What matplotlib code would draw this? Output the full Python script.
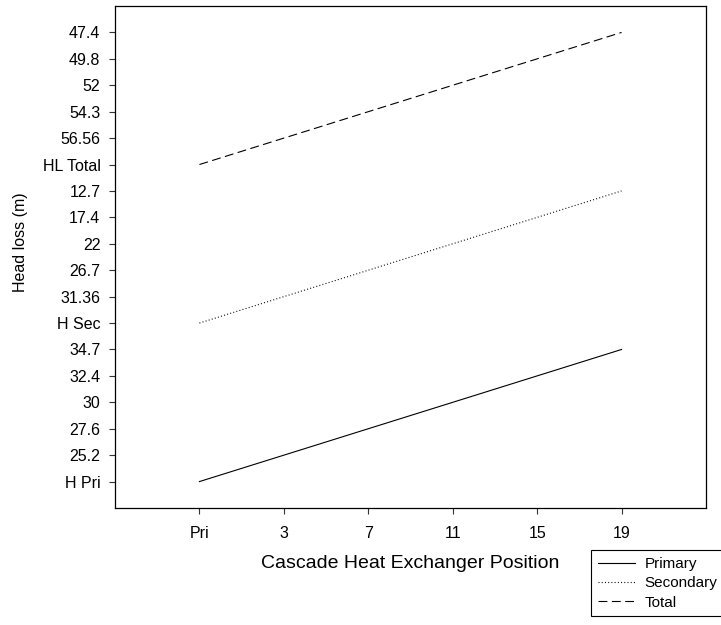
import matplotlib
matplotlib.use("Agg")
import matplotlib.pyplot as plt

plt.rcParams['font.family'] = ['Liberation Sans', 'DejaVu Sans']

# Data
x_labels = ['Pri', '3', '7', '11', '15', '19']
y_labels = ['H Pri', '25.2', '27.6', '30', '32.4', '34.7',
            'H Sec', '31.36', '26.7', '22', '17.4', '12.7',
            'HL Total', '56.56', '54.3', '52', '49.8', '47.4']
series_x = ['Pri', '19']
primary_y = ['H Pri', '34.7']
secondary_y = ['H Sec', '12.7']
total_y = ['HL Total', '47.4']
series_names = ['Primary', 'Secondary', 'Total']

fig = plt.figure(figsize=(7.21, 6.25), dpi=100)
ax = fig.add_axes([115/721, 1-508/625, (706-115)/721, (508-6)/625])

xs = [x_labels.index(v) for v in series_x]
def ypos(vals):
    return [y_labels.index(v) for v in vals]

ax.plot(xs, ypos(primary_y), color='black', lw=0.8, linestyle='-', label=series_names[0])
ax.plot(xs, ypos(secondary_y), color='black', lw=0.8, linestyle=(0, (0.9, 2.0)), label=series_names[1])
ax.plot(xs, ypos(total_y), color='black', lw=0.8, linestyle=(0, (8, 4)), label=series_names[2])

ax.set_xlim(-1, len(x_labels))
ax.set_ylim(-1, len(y_labels))
ax.set_xticks(range(len(x_labels)))
ax.set_xticklabels(x_labels)
ax.set_yticks(range(len(y_labels)))
ax.set_yticklabels(y_labels)
ax.tick_params(direction='out', length=4.5, width=0.8, colors='#333333',
               labelcolor='black', labelsize=11.5)
ax.tick_params(axis='y', pad=6)
ax.tick_params(axis='x', pad=8.5)
for s in ax.spines.values():
    s.set_linewidth(0.9)
    s.set_color('black')

ax.set_xlabel('Cascade Heat Exchanger Position', fontsize=14)
ax.set_ylabel('Head loss (m)', fontsize=11.5)
ax.xaxis.set_label_coords(0.5, -0.094)
ax.yaxis.set_label_coords(-0.147, 0.53)

leg = fig.legend(loc='upper left', bbox_to_anchor=(591/721, 1-550/625),
                 bbox_transform=fig.transFigure, borderaxespad=0,
                 fontsize=11, handlelength=2.45, handletextpad=0.6,
                 borderpad=0.45, labelspacing=0.35, fancybox=False,
                 framealpha=1, edgecolor='black')
leg.get_frame().set_linewidth(0.8)

fig.savefig('out.png', dpi=100)
